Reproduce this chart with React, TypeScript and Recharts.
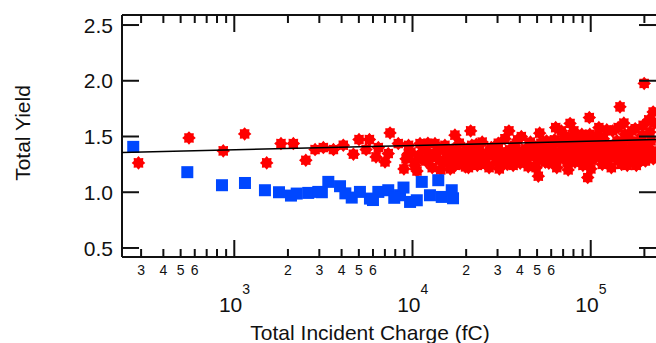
import { ScatterChart, Scatter, XAxis, YAxis, ReferenceLine } from 'recharts';

// axis ranges (fC on log scale, yield linear)
const xDomain = [234.4, 232400];
const yDomain = [0.419, 2.59];

const yTicks = [0.5, 1.0, 1.5, 2.0, 2.5];
const xMajorTicks = [1000, 10000, 100000];
const xMinorTicks = [
    300, 400, 500, 600, 700, 800, 900,
    2000, 3000, 4000, 5000, 6000, 7000, 8000, 9000,
    20000, 30000, 40000, 50000, 60000, 70000, 80000, 90000,
    200000,
];
const xLabelledMinor = [300, 400, 500, 600, 2000, 3000, 4000, 5000, 6000, 20000, 30000, 40000, 50000, 60000];

// fitted trend line, read at both ends
const fitCharge = [234.4, 232400];
const fitYield = [1.357, 1.472];

// blue squares
const bluePoints: [number, number][] = [
    [271, 1.407], [545, 1.18], [853, 1.063], [1148, 1.083], [1486, 1.018], [1782, 1.0], [2080, 0.97],
    [2240, 0.988], [2600, 0.994], [2960, 1.003], [3370, 1.093], [3920, 1.054], [4560, 0.952],
    [5070, 1.003], [5770, 0.943], [6430, 1.003], [7310, 1.018], [8510, 0.973], [8900, 1.042],
    [9690, 0.913], [10570, 0.928], [11270, 1.093], [12530, 0.973], [13950, 1.108], [14590, 0.958],
    [16600, 1.018], [16880, 0.946], [4200, 0.99], [6000, 0.93], [7900, 0.95], [3100, 1.0],
];

// red stars
const redPoints: [number, number][] = [
    [290, 1.263], [557, 1.487], [867, 1.371], [1143, 1.523], [1520, 1.263], [1828, 1.437], [2145, 1.437],
    [2520, 1.287], [2840, 1.383], [3160, 1.401], [3600, 1.383], [4090, 1.422], [4660, 1.341],
    [5010, 1.473], [5730, 1.473], [5490, 1.383], [6430, 1.401], [6240, 1.317], [7010, 1.272],
    [7480, 1.532], [8320, 1.437], [7310, 1.347], [8950, 1.209], [9480, 1.347], [10330, 1.272],
    [11020, 1.437], [12020, 1.287], [13370, 1.437], [14260, 1.287], [15550, 1.347], [17300, 1.512],
    [17700, 1.377], [16600, 1.272], [21200, 1.55], [34750, 1.55], [50800, 1.144], [19860, 1.227],
    [96200, 1.132], [98200, 1.67], [146000, 1.766], [199500, 1.976], [224000, 1.72], [76600, 1.617],
    [9200, 1.30], [9800, 1.36], [10300, 1.24], [10800, 1.33], [11500, 1.40], [11900, 1.28], [12400, 1.35],
    [12900, 1.22], [13600, 1.31], [14000, 1.38], [14800, 1.26], [15200, 1.42], [15900, 1.33], [16300, 1.21],
    [17000, 1.36], [17800, 1.29], [18300, 1.44], [18900, 1.25], [19500, 1.34], [20300, 1.39], [20900, 1.28],
    [21500, 1.42], [22400, 1.31], [23100, 1.24], [23800, 1.37], [24600, 1.45], [25300, 1.30], [26000, 1.35],
    [26900, 1.22], [27700, 1.40], [28500, 1.33], [29400, 1.27], [30300, 1.44], [31200, 1.36], [32100, 1.30],
    [33000, 1.48], [34000, 1.25], [35100, 1.38], [36200, 1.33], [37300, 1.42], [38400, 1.28], [39600, 1.36],
    [40800, 1.50], [42000, 1.31], [43300, 1.39], [44600, 1.23], [45900, 1.45], [47300, 1.34], [48700, 1.40],
    [50200, 1.29], [51700, 1.53], [53200, 1.37], [54800, 1.32], [56500, 1.46], [58200, 1.26], [59900, 1.41],
    [61700, 1.35], [63600, 1.58], [65500, 1.30], [67400, 1.44], [69400, 1.38], [71500, 1.50], [73600, 1.27],
    [75800, 1.42], [78100, 1.34], [80400, 1.55], [82800, 1.31], [85300, 1.47], [87800, 1.39], [90400, 1.24],
    [93100, 1.43], [95900, 1.36], [98800, 1.52], [101700, 1.29], [104800, 1.45], [107900, 1.38], [111100, 1.58],
    [114400, 1.33], [117800, 1.48], [121300, 1.27], [124900, 1.42], [128600, 1.36], [132500, 1.55], [136400, 1.31],
    [140500, 1.46], [144700, 1.40], [149000, 1.25], [153400, 1.62], [158000, 1.35], [162700, 1.49], [167500, 1.30],
    [172500, 1.44], [177600, 1.57], [182900, 1.38], [188300, 1.28], [193900, 1.51], [199700, 1.42], [205600, 1.34],
    [211700, 1.65], [218000, 1.46], [224500, 1.30],
    [9500, 1.42], [10600, 1.19], [11200, 1.30], [12200, 1.44], [13100, 1.34], [14400, 1.20], [15600, 1.30],
    [16700, 1.38], [17400, 1.24], [18600, 1.35], [19200, 1.30], [20600, 1.22], [21900, 1.35], [22800, 1.43],
    [24200, 1.30], [25700, 1.25], [27200, 1.34], [28900, 1.41], [30700, 1.21], [31700, 1.29], [33500, 1.36],
    [34600, 1.31], [36700, 1.24], [38900, 1.47], [40200, 1.26], [41400, 1.37], [44000, 1.30], [46600, 1.38],
    [49400, 1.22], [50900, 1.35], [52500, 1.44], [55600, 1.27], [57300, 1.38], [60800, 1.30], [62600, 1.47],
    [64500, 1.22], [66400, 1.36], [68400, 1.55], [70400, 1.31], [72500, 1.43], [74700, 1.20], [76900, 1.37],
    [79200, 1.49], [81600, 1.27], [84000, 1.40], [86500, 1.32], [89100, 1.52], [91700, 1.35], [94500, 1.28],
    [97300, 1.44], [100200, 1.21], [103200, 1.38], [106300, 1.31], [109500, 1.50], [112700, 1.42], [116100, 1.25],
    [119500, 1.36], [123100, 1.56], [126800, 1.31], [130500, 1.22], [134400, 1.40], [138400, 1.35], [142600, 1.58],
    [146800, 1.29], [151200, 1.44], [155700, 1.52], [160300, 1.24], [165100, 1.39], [170000, 1.55], [175000, 1.33],
    [180200, 1.24], [185600, 1.46], [191100, 1.36], [196800, 1.60], [202700, 1.28], [208700, 1.40], [214900, 1.54],
    [221300, 1.37], [227900, 1.62],
];

const W = 656;
const H = 343;
const PLOT_LEFT = 122;
const PLOT_TOP = 15;
const PLOT_BOTTOM = 257;
const PLOT_RIGHT = 656;
const FONT = '"Liberation Sans", Arial, sans-serif';
const INK = '#111';

const toRows = (pts: [number, number][]) => pts.map(([x, y]) => ({ x, y }));
const fitRows = fitCharge.map((x, i) => ({ x, y: fitYield[i] }));

const Star = (props: any) => {
    const { cx, cy } = props;
    if (cx == null || cy == null) return <g />;
    let d = '';
    for (let i = 0; i < 16; i++) {
        const r = i % 2 === 0 ? 6.8 : 5.0;
        const a = (Math.PI * i) / 8;
        d += (i === 0 ? 'M' : 'L') + (cx + r * Math.cos(a)).toFixed(2) + ',' + (cy + r * Math.sin(a)).toFixed(2);
    }
    return <path d={d + 'Z'} fill="#FF0000" />;
};

const Square = (props: any) => {
    const { cx, cy } = props;
    if (cx == null || cy == null) return <g />;
    return <rect x={cx - 6} y={cy - 6} width={12} height={12} fill="#0047FF" />;
};

const XTick = (props: any) => {
    const { x, payload } = props;
    const v = payload.value;
    const major = xMajorTicks.includes(v);
    const len = major ? 17 : 8;
    const exp = Math.floor(Math.log10(v) + 1e-9);
    const mant = Math.round(v / Math.pow(10, exp));
    return (
        <g>
            <line x1={x} x2={x} y1={PLOT_BOTTOM} y2={PLOT_BOTTOM - len} stroke={INK} strokeWidth={2} />
            <line x1={x} x2={x} y1={PLOT_TOP} y2={PLOT_TOP + len} stroke={INK} strokeWidth={2} />
            {major ? (
                <g fontFamily={FONT} fill={INK}>
                    <text x={x + 8} y={312} fontSize={21} textAnchor="end">10</text>
                    <text x={x + 8} y={294} fontSize={14} textAnchor="start">{exp}</text>
                </g>
            ) : xLabelledMinor.includes(v) ? (
                <text x={x} y={275} fontSize={14} fontFamily={FONT} fill={INK} textAnchor="middle">{mant}</text>
            ) : null}
        </g>
    );
};

const YTick = (props: any) => {
    const { y, payload } = props;
    return (
        <g>
            <line x1={PLOT_LEFT} x2={PLOT_LEFT + 17} y1={y} y2={y} stroke={INK} strokeWidth={2} />
            <line x1={PLOT_RIGHT} x2={PLOT_RIGHT - 17} y1={y} y2={y} stroke={INK} strokeWidth={2} />
            <text x={113} y={y} dy="0.36em" fontSize={21} fontFamily={FONT} fill={INK} textAnchor="end">
                {payload.value.toFixed(1)}
            </text>
        </g>
    );
};

const XTitle = () => (
    <text x={370} y={340} fontSize={21} fontFamily={FONT} fill={INK} textAnchor="middle">
        Total Incident Charge (fC)
    </text>
);

const YTitle = () => (
    <text x={30} y={133} fontSize={21} fontFamily={FONT} fill={INK} textAnchor="middle" transform="rotate(-90 30 133)">
        Total Yield
    </text>
);

export default function App() {
    return (
        <div style={{ position: 'absolute', left: 0, top: 0, width: W, height: H, background: '#fff' }}>
            <ScatterChart width={W} height={H} margin={{ top: PLOT_TOP, right: W - PLOT_RIGHT, bottom: 0, left: 0 }}>
                <XAxis
                    dataKey="x"
                    type="number"
                    scale="log"
                    domain={xDomain}
                    allowDataOverflow
                    ticks={[...xMinorTicks, ...xMajorTicks].sort((a, b) => a - b)}
                    interval={0}
                    height={H - PLOT_BOTTOM}
                    tickLine={false}
                    tickSize={0}
                    axisLine={{ stroke: INK, strokeWidth: 2 }}
                    tick={<XTick />}
                    label={<XTitle />}
                />
                <YAxis
                    dataKey="y"
                    type="number"
                    domain={yDomain}
                    allowDataOverflow
                    ticks={yTicks}
                    interval={0}
                    width={PLOT_LEFT}
                    tickLine={false}
                    tickSize={0}
                    axisLine={{ stroke: INK, strokeWidth: 2 }}
                    tick={<YTick />}
                    label={<YTitle />}
                />
                <ReferenceLine y={yDomain[1]} stroke={INK} strokeWidth={2} />
                <Scatter data={toRows(redPoints)} shape={<Star />} isAnimationActive={false} />
                <Scatter data={toRows(bluePoints)} shape={<Square />} isAnimationActive={false} />
                <Scatter
                    data={fitRows}
                    line={{ stroke: '#000', strokeWidth: 1.5 }}
                    lineType="joint"
                    shape={() => <g />}
                    isAnimationActive={false}
                />
            </ScatterChart>
        </div>
    );
}
